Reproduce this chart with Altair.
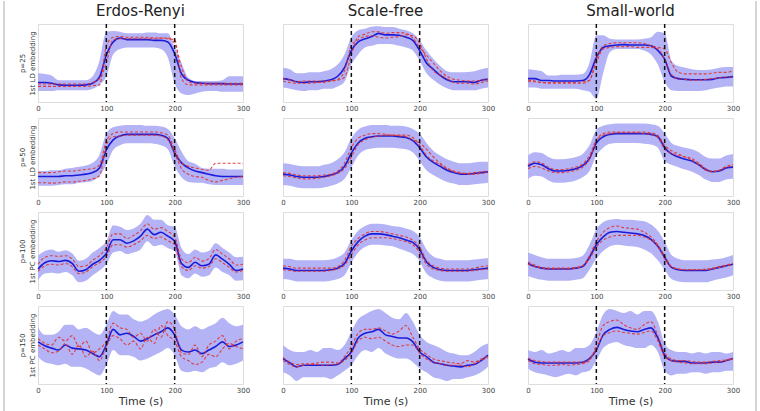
import altair as alt
import pandas as pd

TIME = list(range(0, 301, 10))
X_TICKS = [0, 50, 100, 150, 200, 250, 300]
EVENT_TIMES = [100, 200]
NETWORKS = ["Erdos-Renyi", "Scale-free", "Small-world"]
ROW_P = ["p=25", "p=50", "p=100", "p=150"]
ROW_EMB = ["1st LD embedding", "1st LD embedding", "1st PC embedding", "1st PC embedding"]

# ---- row 1 (p=25) ----
ER25_MEAN = [25, 25, 24, 22, 21.5, 21.5, 21.5, 22, 24, 32, 60, 77, 82, 80, 80, 80, 80, 79, 79, 77, 62, 36, 28, 25, 24, 23.5, 23.5, 23.5, 23, 23, 23]
ER25_HI = [37, 36, 34, 28, 28, 28, 28, 28, 33, 53, 90, 91, 90, 88, 88, 88, 89, 89, 88, 88, 70, 50, 31, 27, 27, 27, 27, 28, 33, 33, 33]
ER25_LO = [14, 14, 14, 15, 15, 15, 15, 15, 17, 22, 33, 61, 68, 70, 70, 70, 70, 70, 68, 57, 24, 11, 9, 11, 13, 14, 14, 13, 13, 13, 13]
ER25_R1 = [20, 20, 20, 20, 20, 20, 20, 20, 21, 22, 72, 83, 84, 83, 83, 83, 83, 82, 82, 81, 80, 30, 22, 22, 22, 22, 22, 22, 22, 22, 22]
ER25_R2 = [23, 23, 23, 23, 23, 23, 23, 23, 25, 30, 50, 80, 81, 81, 81, 81, 81, 81, 82, 82, 75, 45, 26, 24, 24, 24, 24, 24, 24, 24, 24]

SF25_MEAN = [30, 28.5, 26, 25, 26, 26, 27, 28.5, 33, 44, 66, 77, 81, 84, 88, 86, 86, 85.5, 83, 79, 66, 50, 42, 34, 28.5, 26, 26, 26, 25, 28, 29]
SF25_HI = [44, 42, 37, 37, 38, 38, 39.5, 42, 48, 61, 83, 92, 94, 96.5, 97, 96, 96, 94, 92, 88, 79, 66, 55, 46, 39.5, 38, 38, 38.5, 39.5, 42, 44]
SF25_LO = [18.5, 17, 15, 14, 15, 15, 17, 17, 20, 26, 48, 61, 70, 72, 74.5, 74.5, 74, 72, 70, 66, 53, 37, 28.5, 22, 17.5, 15, 15, 15, 15, 17, 18.5]
SF25_R1 = [27, 25, 24, 24, 24, 25, 25, 27, 29, 40, 72, 80, 84, 85, 83, 82, 83, 84, 86, 85, 75, 55, 40, 35, 30, 25, 24, 24, 23, 25, 27]
SF25_R2 = [30, 28, 26, 27, 27, 27, 27, 27, 28, 32, 60, 84, 87, 90, 90, 88, 89, 89, 88, 82, 70, 60, 50, 40, 33, 29, 28, 27, 27, 28, 29]

SW25_MEAN = [30, 30, 27.5, 27.5, 27, 27, 27, 27, 27.5, 35, 57, 70, 72, 73, 73.5, 73, 73, 73, 72, 66, 55, 33, 30, 29, 28.5, 28.5, 28.5, 29, 31, 31.5, 32.5]
SW25_HI = [42, 41, 39.5, 34, 34, 35, 35, 35, 36, 50, 85.5, 85.5, 81, 80, 80, 80, 80, 81, 83, 90, 88, 53, 46, 44, 42, 41, 41, 42, 44, 45, 45]
SW25_LO = [18.5, 18.5, 17, 17, 17, 17, 17, 17, 15, 13, 4, 37, 64, 68, 68, 68, 68, 66, 61, 48, 26, 15, 14, 14, 14, 14, 15, 17, 18.5, 20, 20]
SW25_R1 = [28, 27, 25, 25, 25, 25, 25, 25, 26, 28, 55, 72, 75, 76, 76, 76, 76, 75, 72, 70, 68, 50, 38, 36, 36, 36, 36, 37, 38, 38, 40]
SW25_R2 = [26, 26, 25, 24, 24, 24, 24, 24, 24, 28, 50, 68, 70, 71, 71, 71, 70, 70, 70, 68, 55, 35, 30, 29, 28, 28, 29, 30, 31, 32, 32]

# ---- row 2 (p=50) ----
ER50_MEAN = [25, 25, 25, 25, 26, 26, 27, 28, 30, 36, 59, 72, 77, 79, 79, 79, 79, 79, 78, 74, 55, 42.5, 36, 32, 30, 28, 26, 25, 25, 25, 25]
ER50_HI = [32, 32, 33, 33, 35, 36, 37.5, 39, 42.5, 53, 80, 88, 90, 91, 91, 91, 90, 90, 89, 86, 74, 57, 44.5, 41.5, 36, 35, 35, 35, 34, 34, 34]
ER50_LO = [13, 13, 13, 14, 15, 15, 17, 17.5, 19.5, 26, 40, 59, 65, 67.5, 67.5, 67.5, 67.5, 67, 65, 60, 38, 24, 18, 17, 17, 15, 14, 14, 14, 14, 14]
ER50_R1 = [17, 17, 16.5, 17, 18, 18, 19, 20, 22, 26, 65, 76, 77, 78, 78, 78, 78, 78, 77, 72, 55, 35, 28, 25, 24, 20, 18, 20, 22, 24, 25]
ER50_R2 = [30, 30, 30, 31, 32, 32, 33, 34, 35, 40, 70, 80, 82, 82, 82, 82, 82, 82, 81, 78, 60, 42, 38, 36, 34, 33, 42, 42, 42, 42, 42]

SF50_MEAN = [28, 27, 25, 24, 24, 24, 25, 27, 30, 38, 55, 68, 74, 76, 77, 77, 77, 76, 75, 71, 62, 50, 43, 38, 33, 30, 28, 28, 29, 30, 31]
SF50_HI = [42, 41, 39, 38, 38, 38, 40, 42, 47, 56, 74, 85, 89, 91, 91, 91, 90, 90, 89, 86, 80, 68, 58, 52, 47, 44, 42, 42, 43, 44, 44]
SF50_LO = [14, 13, 11, 10, 10, 10, 11, 13, 16, 22, 37, 52, 59, 61, 62, 62, 62, 61, 60, 56, 45, 33, 27, 22, 18, 16, 14, 14, 15, 16, 17]
SF50_R1 = [26, 25, 23, 22, 22, 23, 24, 26, 29, 35, 50, 66, 72, 75, 77, 78, 78, 77, 76, 72, 68, 60, 50, 42, 36, 32, 30, 28, 28, 29, 30]
SF50_R2 = [30, 29, 27, 26, 26, 26, 27, 28, 32, 42, 62, 74, 78, 80, 80, 79, 78, 78, 78, 75, 65, 52, 45, 40, 35, 31, 29, 29, 30, 31, 32]

SW50_MEAN = [38, 42, 40, 35, 32, 32, 33, 35, 39, 48, 68, 76, 79, 80, 80, 80, 80, 80, 79, 76, 62, 54, 50, 47, 45, 40, 34, 31, 32, 36, 37]
SW50_HI = [52, 56, 55, 50, 47, 47, 48, 50, 54, 65, 85, 90, 92, 93, 93, 93, 93, 93, 92, 90, 80, 68, 64, 62, 60, 56, 50, 48, 48, 52, 54]
SW50_LO = [22, 26, 25, 20, 17, 17, 18, 20, 24, 32, 52, 62, 67, 68, 68, 68, 68, 67, 66, 62, 45, 40, 37, 34, 31, 27, 21, 18, 18, 21, 22]
SW50_R1 = [35, 38, 36, 32, 30, 30, 31, 33, 37, 47, 70, 78, 80, 81, 81, 81, 81, 80, 79, 75, 60, 55, 52, 50, 48, 42, 35, 32, 33, 38, 40]
SW50_R2 = [40, 44, 42, 37, 34, 34, 35, 37, 41, 52, 72, 80, 82, 82, 82, 82, 82, 82, 81, 78, 65, 58, 54, 50, 46, 40, 33, 31, 33, 37, 38]

# ---- row 3 (p=100) ----
ER100_MEAN = [27, 35, 37.5, 36.5, 38, 34, 24, 26, 33, 38, 47, 64.5, 64.5, 60, 63, 69, 78, 71, 74, 69, 62.5, 34, 29, 35.5, 31, 33, 45, 39.5, 33, 25, 27]
ER100_HI = [44, 50, 52, 49, 51, 47, 37.5, 40, 48, 54, 62.5, 83, 81, 77, 79, 85, 96, 90, 90, 83, 81, 54, 46, 52, 48, 50, 60, 54, 48, 42, 42.5]
ER100_LO = [12.5, 21, 22, 21, 23, 19, 10, 12, 19, 25, 33, 48, 50, 46, 48, 52, 62.5, 56, 58, 54, 50, 19, 15, 21, 17, 19, 29, 23, 19, 12, 12.5]
ER100_R1 = [33, 42, 44, 43, 44, 40, 30, 31, 38, 44, 54, 72, 72, 66, 70, 76, 85, 78, 80, 75, 68, 40, 35, 42, 37, 40, 52, 46, 40, 32, 33]
ER100_R2 = [24, 31, 33, 32, 34, 30, 21, 23, 30, 35, 43, 58, 58, 55, 58, 63, 70, 66, 68, 63, 58, 30, 25, 31, 28, 30, 40, 35, 29, 23, 25]

SF100_MEAN = [28, 27, 25, 25, 25, 25, 25, 26, 28, 34, 50, 62, 69, 72, 72, 71, 69, 67, 64, 61, 52, 36, 29, 26, 25, 25, 25, 25, 26, 27, 28]
SF100_HI = [40, 40, 38, 38, 38, 38, 38, 39, 42, 48, 64, 76, 82, 85, 85, 84, 82, 81, 79, 76, 68, 52, 43, 40, 38, 38, 38, 38, 39, 40, 41]
SF100_LO = [14, 13, 11, 11, 11, 11, 11, 12, 14, 19, 35, 48, 55, 58, 58, 57, 56, 53, 50, 46, 37, 21, 15, 12, 11, 11, 11, 11, 12, 13, 14]
SF100_R1 = [31, 30, 28, 28, 28, 28, 28, 28, 30, 38, 56, 66, 72, 75, 75, 74, 72, 70, 68, 64, 55, 38, 31, 28, 27, 27, 27, 27, 28, 30, 31]
SF100_R2 = [26, 25, 24, 24, 24, 24, 24, 25, 27, 32, 45, 58, 64, 67, 67, 67, 66, 64, 62, 58, 48, 33, 27, 25, 24, 24, 24, 24, 25, 26, 27]

SW100_MEAN = [34, 30, 28, 27, 27, 27, 27, 28, 30, 42, 58, 68, 74, 75, 74, 73, 72, 70, 65, 56, 42, 29, 26, 25, 25, 25, 25, 27, 29, 31, 33]
SW100_HI = [48, 45, 42, 40, 40, 40, 40, 41, 44, 58, 78, 87, 90, 91, 90, 90, 89, 88, 84, 76, 62, 45, 40, 38, 38, 38, 38, 39, 40, 42, 45]
SW100_LO = [18, 15, 13, 12, 12, 12, 12, 13, 15, 26, 40, 50, 56, 58, 57, 56, 55, 52, 47, 38, 26, 14, 11, 10, 10, 10, 10, 12, 14, 16, 19]
SW100_R1 = [33, 30, 28, 27, 27, 27, 27, 28, 31, 44, 62, 74, 80, 82, 80, 79, 78, 74, 68, 58, 44, 30, 27, 26, 26, 26, 27, 28, 30, 32, 34]
SW100_R2 = [36, 32, 29, 28, 28, 28, 28, 29, 31, 40, 55, 64, 68, 70, 70, 70, 70, 68, 64, 56, 40, 30, 27, 26, 26, 26, 26, 27, 29, 31, 33]

# ---- row 4 (p=150) ----
ER150_MEAN = [54, 49, 46, 43.5, 50, 46, 45, 43.5, 39, 35, 50, 70, 63, 65, 61, 55, 58, 63, 67, 72, 63, 43.5, 41, 43.5, 39, 43.5, 48, 54, 48, 50, 54]
ER150_HI = [72, 63, 63, 67, 76, 76, 70, 72, 67, 63, 76, 93.5, 89, 89, 83, 80, 83, 89, 93.5, 96, 89, 74, 70, 74, 70, 74, 78, 85, 78, 74, 76]
ER150_LO = [35, 28, 26, 24, 26, 22, 22, 20, 15, 11, 24, 43.5, 37, 37, 35, 30, 32.6, 37, 41, 46, 37, 17, 15, 17, 15, 20, 22, 28, 24, 26, 30]
ER150_R1 = [58, 52, 50, 60, 55, 62, 48, 55, 40, 45, 55, 78, 72, 70, 60, 65, 55, 70, 60, 80, 70, 40, 38, 50, 35, 50, 55, 62, 45, 55, 58]
ER150_R2 = [50, 45, 40, 42, 52, 38, 50, 35, 42, 30, 48, 62, 58, 50, 55, 45, 60, 52, 75, 62, 55, 35, 30, 25, 28, 38, 35, 45, 52, 48, 45]

SF150_MEAN = [32.6, 27, 22, 24, 24, 24, 24, 24, 25, 32.6, 41, 59, 65, 67, 70, 63, 61, 59, 59, 54, 41, 35, 28, 26, 24, 23, 22, 24, 25, 30, 37]
SF150_HI = [50, 43.5, 41, 41, 43.5, 41, 46, 46, 43.5, 50, 67, 83, 89, 93.5, 96, 91, 85, 83, 91, 80, 63, 54, 50, 46, 41, 39, 37, 37, 41, 48, 52]
SF150_LO = [15, 11, 4, 8.7, 8.7, 8.7, 8.7, 6.5, 11, 17, 24, 37, 43.5, 41, 46, 39, 35, 32.6, 32.6, 28, 20, 15, 8.7, 6.5, 4, 6.5, 6.5, 8.7, 11, 15, 22]
SF150_R1 = [34, 28, 25, 26, 26, 27, 28, 28, 27, 35, 48, 65, 70, 70, 72, 68, 64, 68, 75, 60, 45, 38, 32, 30, 28, 27, 26, 30, 28, 32, 36]
SF150_R2 = [30, 25, 22, 24, 25, 25, 24, 25, 26, 30, 40, 55, 60, 58, 60, 55, 50, 48, 50, 50, 40, 32, 28, 26, 24, 24, 24, 22, 26, 30, 34]

SW150_MEAN = [32, 28, 27, 27, 27, 27, 27, 27, 28, 32.6, 43.5, 63, 70, 72.6, 70, 68, 67, 70, 72, 59, 37, 30, 29, 29, 27, 27, 27, 28, 28, 30, 32.6]
SW150_HI = [43.5, 41, 43.5, 39, 41, 43.5, 41, 46, 46, 50, 67, 89, 96, 93.5, 91, 93.5, 89, 93.5, 93.5, 80, 52, 43.5, 41, 41, 39, 41, 39, 41, 41, 39, 41]
SW150_LO = [20, 15, 13, 11, 8.7, 11, 13, 11, 15, 17, 30, 46, 52, 54, 50, 48, 46, 46, 50, 41, 17, 11, 13, 13, 15, 15, 13, 15, 15, 17, 17]
SW150_R1 = [30, 26, 25, 24, 24, 25, 24, 25, 26, 30, 50, 75, 80, 82, 76, 72, 70, 76, 80, 62, 40, 32, 30, 30, 29, 28, 28, 29, 30, 31, 33]
SW150_R2 = [33, 30, 29, 28, 28, 28, 28, 28, 28, 32, 45, 62, 66, 68, 66, 65, 64, 66, 68, 55, 35, 30, 28, 27, 26, 26, 26, 27, 28, 30, 32]

PANELS = [
    [(ER25_MEAN, ER25_LO, ER25_HI, ER25_R1, ER25_R2),
     (SF25_MEAN, SF25_LO, SF25_HI, SF25_R1, SF25_R2),
     (SW25_MEAN, SW25_LO, SW25_HI, SW25_R1, SW25_R2)],
    [(ER50_MEAN, ER50_LO, ER50_HI, ER50_R1, ER50_R2),
     (SF50_MEAN, SF50_LO, SF50_HI, SF50_R1, SF50_R2),
     (SW50_MEAN, SW50_LO, SW50_HI, SW50_R1, SW50_R2)],
    [(ER100_MEAN, ER100_LO, ER100_HI, ER100_R1, ER100_R2),
     (SF100_MEAN, SF100_LO, SF100_HI, SF100_R1, SF100_R2),
     (SW100_MEAN, SW100_LO, SW100_HI, SW100_R1, SW100_R2)],
    [(ER150_MEAN, ER150_LO, ER150_HI, ER150_R1, ER150_R2),
     (SF150_MEAN, SF150_LO, SF150_HI, SF150_R1, SF150_R2),
     (SW150_MEAN, SW150_LO, SW150_HI, SW150_R1, SW150_R2)],
]

BAND = "#b3b3f6"
BLUE = "#1c1cd8"
RED = "#e2322c"
FONT = "DejaVu Sans"
W, H = 205, 78
# offsets of the outer frame relative to the bottom-left panel (top at y=305, left at x=37)
FRAME_LEFT, FRAME_RIGHT, FRAME_TOP, FRAME_BOTTOM = -34, 718, -305, 106


def panel(r, c):
    mean, lo, hi, r1, r2 = PANELS[r][c]
    df = pd.DataFrame({"t": TIME, "mean": mean, "lo": lo, "hi": hi, "r1": r1, "r2": r2})

    xkw = dict(values=X_TICKS, labelFontSize=7, labelColor="#444", labelFont=FONT,
               ticks=False, domain=False, grid=False, labelPadding=2, labelFlush=False)
    if r == 3:
        xkw.update(title="Time (s)", titleFontSize=11, titleFontWeight="normal",
                   titleColor="#333", titleFont=FONT, titlePadding=2)
    else:
        xkw.update(title="")
    x = alt.X("t:Q", scale=alt.Scale(domain=[0, 300], nice=False, zero=False), axis=alt.Axis(**xkw))

    ysc = alt.Scale(domain=[0, 100], nice=False)
    if c == 0:
        yax = alt.Axis(title=[ROW_P[r], ROW_EMB[r]], labels=False, ticks=False, domain=False,
                       grid=False, titleFontSize=7, titleFontWeight="normal", titleColor="#333",
                       titleFont=FONT, titleLineHeight=10, minExtent=0,
                       titleX=-13, titleY=H / 2, titleAngle=270, titleAlign="center",
                       titleBaseline="bottom")
    else:
        yax = None

    base = alt.Chart(df)
    band = base.mark_area(color=BAND, opacity=1, interpolate="monotone").encode(
        x=x, y=alt.Y("lo:Q", scale=ysc, axis=yax), y2="hi:Q")
    mean_line = base.mark_line(color=BLUE, strokeWidth=1.6, interpolate="monotone").encode(
        x="t:Q", y="mean:Q")
    red1 = base.mark_line(color=RED, strokeWidth=1.1, strokeDash=[3, 2], opacity=0.9,
                          interpolate="monotone").encode(x="t:Q", y="r1:Q")
    red2 = base.mark_line(color=RED, strokeWidth=1.1, strokeDash=[3, 2], opacity=0.9,
                          interpolate="monotone").encode(x="t:Q", y="r2:Q")
    vlines = alt.Chart(pd.DataFrame({"t": EVENT_TIMES})).mark_rule(
        color="#111", strokeDash=[4, 3], strokeWidth=1.5).encode(x="t:Q")

    layers = [band, mean_line, red1, red2, vlines]
    if r == 3 and c == 0:
        one = pd.DataFrame({"k": [0]})
        left = alt.Chart(one).mark_rule(color="#aaaaaa", strokeWidth=1).encode(
            x=alt.value(FRAME_LEFT), y=alt.value(FRAME_TOP), y2=alt.value(FRAME_BOTTOM))
        right = alt.Chart(one).mark_rule(color="#aaaaaa", strokeWidth=1).encode(
            x=alt.value(FRAME_RIGHT), y=alt.value(FRAME_TOP), y2=alt.value(FRAME_BOTTOM))
        layers += [left, right]

    ch = alt.layer(*layers).properties(width=W, height=H)
    if r == 0:
        ch = ch.properties(title=alt.TitleParams(NETWORKS[c], fontSize=15, fontWeight="normal",
                                                 color="#222", font=FONT, offset=4))
    return ch


panels = [panel(r, c) for r in range(4) for c in range(3)]

chart = alt.concat(*panels, columns=3, spacing={"row": 16, "column": 40}, bounds="flush").properties(
    padding={"left": 3, "top": 0, "right": 0, "bottom": 0}
).configure_view(stroke="#888888", strokeWidth=1).configure(font=FONT, background="white")

chart.save("out.html", embed_options={"renderer": "svg", "actions": False})
